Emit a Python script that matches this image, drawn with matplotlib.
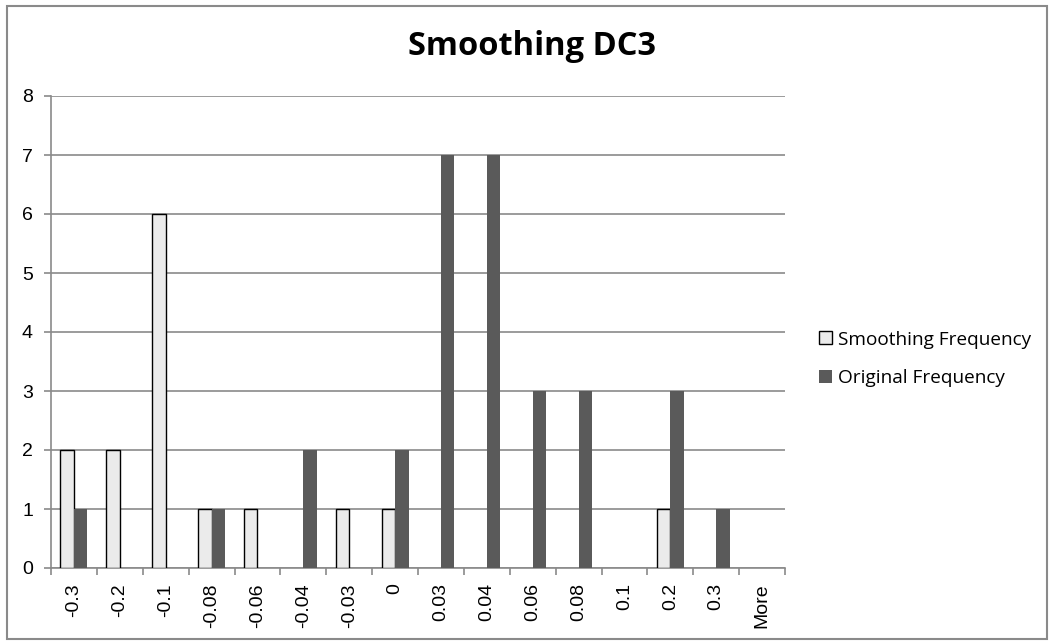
import matplotlib
matplotlib.use("Agg")
import matplotlib.pyplot as plt
import numpy as np
from matplotlib.patches import Rectangle, Patch

categories = ['-0.3', '-0.2', '-0.1', '-0.08', '-0.06', '-0.04', '-0.03', '0',
              '0.03', '0.04', '0.06', '0.08', '0.1', '0.2', '0.3', 'More']
smoothing_freq = [2, 2, 6, 1, 1, 0, 1, 1, 0, 0, 0, 0, 0, 1, 0, 0]
original_freq = [1, 0, 0, 1, 0, 2, 0, 2, 7, 7, 3, 3, 0, 3, 1, 0]

smooth_color = '#ebebeb'
orig_color = '#5a5a5a'
grid_color = '#8a8a8a'

fig = plt.figure(figsize=(10.53, 6.44), dpi=100)
ax = fig.add_axes([51 / 1053, 1 - 568 / 644, (785 - 51) / 1053, (568 - 96) / 644])

x = np.arange(len(categories))
w = 0.295
# no outline on empty bins, otherwise a flat line shows up on the axis
smooth_lw = [1.0 if v > 0 else 0 for v in smoothing_freq]
ax.bar(x - w / 2, smoothing_freq, w, color=smooth_color, edgecolor='black',
       linewidth=smooth_lw, zorder=3)
ax.bar(x + w / 2, original_freq, w, color=orig_color, edgecolor='none', zorder=3)

ax.set_xlim(-0.5, len(categories) - 0.5)
ax.set_ylim(0, 8)
ax.set_yticks(range(0, 9))
ax.yaxis.grid(True, color=grid_color, linewidth=1.2, zorder=0)
ax.set_axisbelow(True)

ax.set_xticks(x)
ax.set_xticklabels(categories, rotation=90, family='Liberation Sans', fontsize=14)
ax.tick_params(axis='x', length=0, pad=11)
ax.set_xticks(np.arange(-0.5, len(categories)), minor=True)
ax.tick_params(axis='x', which='minor', length=5, color=grid_color, width=1.2)
ax.tick_params(axis='y', length=5, color=grid_color, width=1.2, pad=8)
for lab in ax.get_yticklabels():
    lab.set_family('Liberation Sans')
    lab.set_fontsize(14)

for s in ['top', 'right']:
    ax.spines[s].set_visible(False)
for s in ['left', 'bottom']:
    ax.spines[s].set_color(grid_color)
    ax.spines[s].set_linewidth(1.2)

fig.text(532 / 1053, 1 - 55 / 644, 'Smoothing DC3', ha='center', va='baseline',
         fontsize=23.5, fontweight='bold', family='Open Sans')

handles = [Patch(facecolor=smooth_color, edgecolor='black', linewidth=1.0),
           Patch(facecolor=orig_color, edgecolor='none')]
fig.legend(handles, ['Smoothing Frequency', 'Original Frequency'],
           loc='center left', bbox_to_anchor=(819 / 1053, 1 - 359 / 644),
           frameon=False, borderpad=0, borderaxespad=0,
           handlelength=0.68, handleheight=0.68, handletextpad=0.3,
           labelspacing=1.1, prop={'family': 'Open Sans', 'size': 13.7})

fig.patches.append(Rectangle((6.5 / 1053, 5.5 / 644), 1040 / 1053, 633 / 644,
                             transform=fig.transFigure, fill=False,
                             edgecolor='#8a8a8a', linewidth=1.5))

fig.savefig('out.png', dpi=100, facecolor='white')
